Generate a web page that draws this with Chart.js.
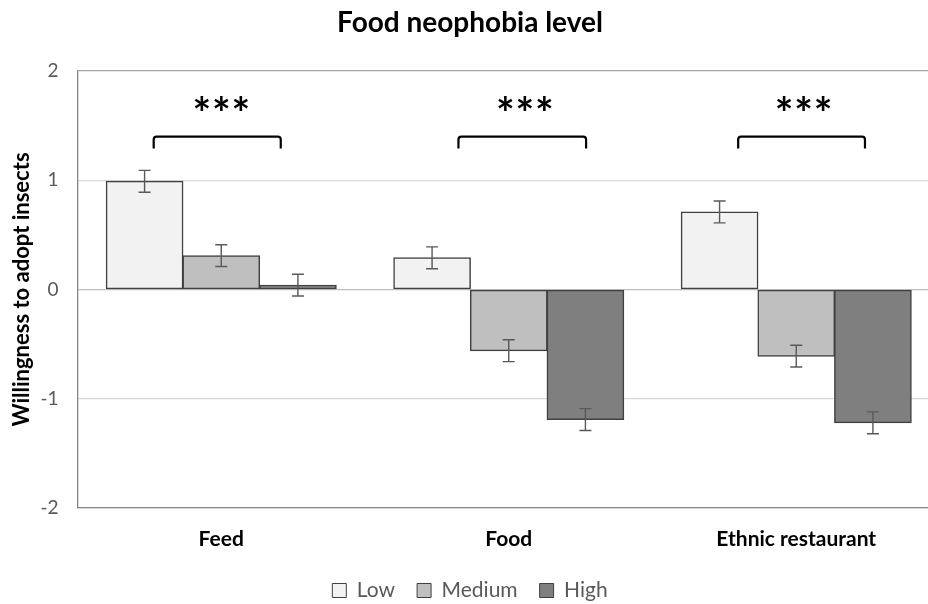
<!DOCTYPE html>
<html>
<head>
<meta charset="utf-8">
<script src="https://cdn.jsdelivr.net/npm/chart.js@4/dist/chart.umd.min.js"></script>
<style>
  html, body { margin: 0; padding: 0; background: #ffffff; overflow: hidden; }
  #wrap { width: 940px; height: 604px; }
</style>
</head>
<body>
<div id="wrap"><canvas id="c" width="940" height="604"></canvas></div>
<script>
// ---- data ----
const categories = ['Feed', 'Food', 'Ethnic restaurant'];
const seriesNames = ['Low', 'Medium', 'High'];
const lowValues = [0.99, 0.29, 0.71];
const mediumValues = [0.31, -0.56, -0.61];
const highValues = [0.04, -1.19, -1.22];
const lowErrors = [0.10, 0.10, 0.10];
const mediumErrors = [0.10, 0.10, 0.10];
const highErrors = [0.10, 0.10, 0.10];
const yTicks = [-2, -1, 0, 1, 2];
const significance = ['***', '***', '***'];

const FONT = "Lato, 'Open Sans', sans-serif";

const errorBarPlugin = {
  id: 'errorBars',
  afterDatasetsDraw(chart, args, opts) {
    const ctx = chart.ctx;
    const y = chart.scales.y;
    ctx.save();
    ctx.strokeStyle = opts.color;
    ctx.lineWidth = opts.width;
    chart.data.datasets.forEach((ds, di) => {
      const meta = chart.getDatasetMeta(di);
      meta.data.forEach((bar, i) => {
        const v = ds.data[i], e = ds.errors[i];
        const yt = y.getPixelForValue(v + e), yb = y.getPixelForValue(v - e);
        const x = bar.x, c = opts.cap;
        ctx.beginPath();
        ctx.moveTo(x, yt); ctx.lineTo(x, yb);
        ctx.moveTo(x - c, yt); ctx.lineTo(x + c, yt);
        ctx.moveTo(x - c, yb); ctx.lineTo(x + c, yb);
        ctx.stroke();
      });
    });
    ctx.restore();
  }
};

const sigPlugin = {
  id: 'sigMarks',
  afterDatasetsDraw(chart, args, opts) {
    const ctx = chart.ctx;
    const xs = chart.scales.x, ys = chart.scales.y;
    const cw = xs.getPixelForValue(1) - xs.getPixelForValue(0);
    ctx.save();
    opts.marks.forEach((m, i) => {
      const cx = xs.getPixelForValue(i);
      const x1 = cx + m.from * cw, x2 = cx + m.to * cw;
      const yt = ys.getPixelForValue(opts.bracketTop), yb = ys.getPixelForValue(opts.bracketEnd);
      const r = 3;
      ctx.strokeStyle = '#000';
      ctx.lineWidth = 2.2;
      ctx.beginPath();
      ctx.moveTo(x1, yb);
      ctx.lineTo(x1, yt + r);
      ctx.arcTo(x1, yt, x1 + r, yt, r);
      ctx.lineTo(x2 - r, yt);
      ctx.arcTo(x2, yt, x2, yt + r, r);
      ctx.lineTo(x2, yb);
      ctx.stroke();
      // stars
      ctx.fillStyle = '#000';
      ctx.font = 'bold 44px ' + FONT;
      ctx.textAlign = 'center';
      ctx.textBaseline = 'alphabetic';
      const sx = cx + m.star * cw;
      const sy = ys.getPixelForValue(opts.starY);
      const txt = significance[i];
      const met = ctx.measureText('*');
      const asc = met.actualBoundingBoxAscent, desc = met.actualBoundingBoxDescent;
      const base = sy + (asc - desc) / 2;
      const n = txt.length, gap = 19.5;
      for (let k = 0; k < n; k++) {
        ctx.fillText('*', sx + (k - (n - 1) / 2) * gap, base);
      }
    });
    ctx.restore();
  }
};

new Chart(document.getElementById('c'), {
  type: 'bar',
  data: {
    labels: categories,
    datasets: [
      { label: seriesNames[0], data: lowValues, errors: lowErrors, backgroundColor: '#f2f2f2', borderColor: '#404040', borderWidth: 1.5, borderSkipped: false, inflateAmount: 0.5 },
      { label: seriesNames[1], data: mediumValues, errors: mediumErrors, backgroundColor: '#bfbfbf', borderColor: '#404040', borderWidth: 1.5, borderSkipped: false, inflateAmount: 0.5 },
      { label: seriesNames[2], data: highValues, errors: highErrors, backgroundColor: '#7f7f7f', borderColor: '#404040', borderWidth: 1.5, borderSkipped: false, inflateAmount: 0.5 }
    ]
  },
  options: {
    responsive: false,
    animation: false,
    devicePixelRatio: 1,
    datasets: { bar: { categoryPercentage: 0.80, barPercentage: 1.0 } },
    layout: { padding: { left: 0, right: 0, top: 0, bottom: -7 } },
    plugins: {
      title: {
        display: true,
        text: 'Food neophobia level',
        color: '#000',
        font: { family: FONT, size: 28, weight: 'bold' },
        padding: { top: 6, bottom: 31.4 }
      },
      legend: {
        display: true,
        position: 'bottom',
        labels: {
          color: '#595959',
          font: { family: FONT, size: 21 },
          boxWidth: 14,
          boxHeight: 14,
          padding: 22,
          generateLabels(chart) {
            return chart.data.datasets.map((ds, i) => ({
              text: ds.label,
              fillStyle: ds.backgroundColor,
              strokeStyle: '#404040',
              lineWidth: 1,
              hidden: false,
              datasetIndex: i,
              fontColor: '#595959'
            }));
          }
        }
      },
      tooltip: { enabled: false },
      errorBars: { color: '#595959', width: 1.4, cap: 6 },
      sigMarks: {
        bracketTop: 1.40,
        bracketEnd: 1.29,
        starY: 1.70,
        marks: [
          { from: -0.235, to: 0.207, star: 0.0 },
          { from: -0.175, to: 0.269, star: 0.056 },
          { from: -0.202, to: 0.239, star: 0.026 }
        ]
      }
    },
    scales: {
      x: {
        grid: { display: false, drawTicks: false },
        border: { display: true, color: '#868686', width: 1.3 },
        ticks: { color: '#000', font: { family: FONT, size: 21, weight: 'bold' }, padding: 19 },
        afterFit(scale) { scale.height = 50; }
      },
      y: {
        min: -2, max: 2,
        afterBuildTicks(scale) { scale.ticks = yTicks.map(v => ({ value: v })); },
        grid: {
          drawTicks: false,
          color(ctx) {
            const v = ctx.tick && ctx.tick.value;
            if (v === 0) return '#bfbfbf';
            if (v === 2) return '#a6a6a6';
            return '#d9d9d9';
          },
          lineWidth: 1.3
        },
        border: { display: true, color: '#868686', width: 1.3 },
        ticks: { color: '#595959', font: { family: FONT, size: 19 }, padding: 19 },
        title: {
          display: true,
          text: 'Willingness to adopt insects',
          color: '#000',
          font: { family: FONT, size: 22, weight: 'bold' },
          padding: { top: 9, bottom: 0 }
        },
        afterFit(scale) { scale.width = 77.5; }
      }
    }
  },
  plugins: [errorBarPlugin, sigPlugin]
});
</script>
</body>
</html>
